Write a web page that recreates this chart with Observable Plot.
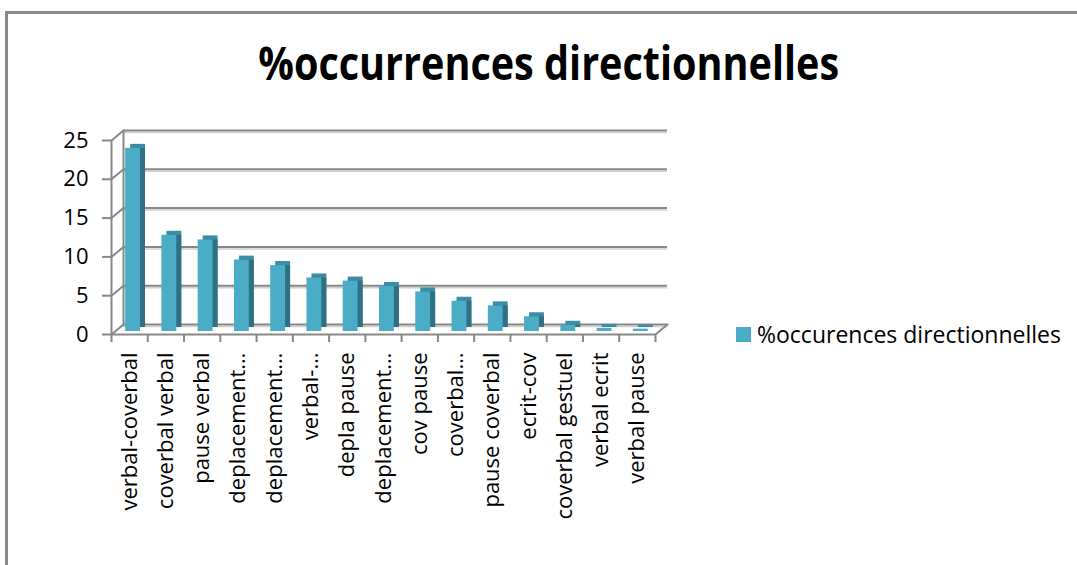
<!DOCTYPE html>
<html>
<head>
<meta charset="utf-8">
<script src="https://cdn.jsdelivr.net/npm/d3@7"></script>
<script src="https://cdn.jsdelivr.net/npm/@observablehq/plot@0.6"></script>
<style>
  html, body { margin: 0; padding: 0; background: #fff; overflow: hidden; }
  #wrap { position: relative; width: 1077px; height: 565px; overflow: hidden; font-family: "Open Sans", sans-serif; }
  #border { position: absolute; left: 5px; top: 11px; width: 1200px; height: 700px; border-left: 3px solid #8a8a8a; border-top: 3px solid #8a8a8a; }
  #chart { position: absolute; left: 0; top: 0; }
  #title { position: absolute; left: 0; width: 1098px; top: 35px; line-height: 1.2; text-align: center; font-weight: 700; font-size: 46px; color: #000; white-space: nowrap; }
  #title span { display: inline-block; transform: scaleX(0.86); transform-origin: center; }
  #legend { position: absolute; left: 736px; top: 318px; display: flex; align-items: center; font-size: 23px; color: #000; white-space: nowrap; }
  #legend .sw { width: 15px; height: 15px; background: #4BACC6; margin-right: 6px; }
</style>
</head>
<body>
<div id="wrap">
  <div id="border"></div>
  <div id="chart"></div>
  <div id="title"><span>%occurrences directionnelles</span></div>
  <div id="legend"><div class="sw"></div><span>%occurences directionnelles</span></div>
</div>
<script>
const categories = ["verbal-coverbal", "coverbal verbal", "pause verbal", "deplacement…", "deplacement…", "verbal-…", "depla pause", "deplacement…", "cov pause", "coverbal…", "pause coverbal", "ecrit-cov", "coverbal gestuel", "verbal ecrit", "verbal pause"];
const values = [23.6, 12.4, 11.8, 9.2, 8.5, 6.9, 6.5, 5.8, 5.1, 3.9, 3.3, 1.9, 0.8, 0.4, 0.3];
const yTicks = [0, 5, 10, 15, 20, 25];

const data = categories.map((c, i) => ({i, c, v: values[i]}));
const grid = "#878787";
const spike = {draw(ctx, l) { ctx.moveTo(0, 0); ctx.lineTo(0, -l); }};
const wallDx = 12, wallDy = -10;
const wallLen = Math.hypot(wallDx, wallDy);
const wallRot = Math.atan2(wallDx, -wallDy) * 180 / Math.PI;

const plot = Plot.plot({
  width: 1077,
  height: 565,
  marginLeft: 111,
  marginRight: 1077 - 655,
  marginTop: 140,
  marginBottom: 565 - 334,
  x: {type: "linear", domain: [0, categories.length], axis: null, label: null},
  y: {domain: [0, 25], axis: null, label: null},
  style: {fontFamily: "Open Sans, sans-serif", background: "transparent"},
  marks: [
    Plot.ruleY(yTicks, {dx: wallDx, dy: wallDy + 2, stroke: "#cfcfcf", strokeWidth: 1.5}),
    Plot.ruleY(yTicks, {dx: wallDx, dy: wallDy, stroke: grid, strokeWidth: 2}),
    Plot.ruleX([0], {y1: 0, y2: 25, dx: wallDx, dy: wallDy, stroke: grid, strokeWidth: 2}),
    Plot.vector(yTicks, {x: 0, y: d => d, length: wallLen, rotate: wallRot, anchor: "start", shape: spike, stroke: grid, strokeWidth: 2}),
    Plot.vector([0], {x: categories.length, y: 0, length: wallLen, rotate: wallRot, anchor: "start", shape: spike, stroke: grid, strokeWidth: 2}),
    Plot.ruleY([0], {stroke: grid, strokeWidth: 2}),
    Plot.ruleX([0], {y1: 0, y2: 25, stroke: grid, strokeWidth: 2}),
    Plot.rectY(data, {x1: d => d.i + 0.39, x2: d => d.i + 0.80, y: "v", dx: 5, dy: -7, fill: "#3A8DA5"}),
    Plot.rectY(data, {x1: d => d.i + 0.39, x2: d => d.i + 0.80, y: "v", dx: 5, dy: -7, insetTop: 4, fill: "#2F7085"}),
    Plot.rectY(data, {x1: d => d.i + 0.39, x2: d => d.i + 0.80, y: "v", dy: -3, fill: "#4BACC6"}),
    Plot.axisY(yTicks, {label: null, tickSize: 9, tickPadding: 14, stroke: grid, strokeWidth: 2, fill: "#000", fontSize: 22}),
    Plot.axisX(d3.range(categories.length + 1), {label: null, tickSize: 8, stroke: grid, strokeWidth: 2, fill: "none", tickFormat: () => ""}),
    Plot.axisX(data.map(d => d.i + 0.5), {label: null, tickSize: 0, tickPadding: 18, tickRotate: -90, fill: "#000", fontSize: 22, tickFormat: x => categories[Math.floor(x)]})
  ]
});
document.getElementById("chart").appendChild(plot);
</script>
</body>
</html>
